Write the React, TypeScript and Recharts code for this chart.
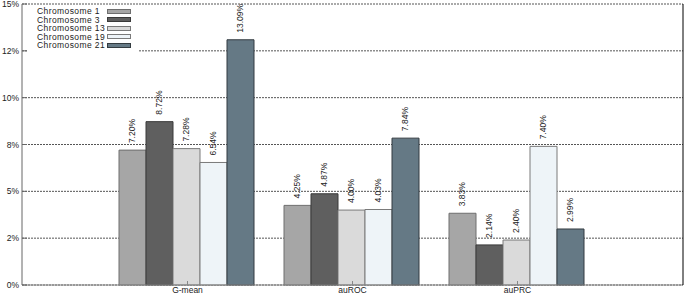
import { BarChart, Bar, XAxis, YAxis, CartesianGrid, LabelList } from "recharts";

const metrics = ["G-mean", "auROC", "auPRC"];
const chr1 = [7.2, 4.25, 3.83];
const chr3 = [8.72, 4.87, 2.14];
const chr13 = [7.28, 4.0, 2.4];
const chr19 = [6.54, 4.03, 7.4];
const chr21 = [13.09, 7.84, 2.99];

const yTicks = [0, 2.5, 5, 7.5, 10, 12.5, 15];
const yTickLabels = ["0%", "2%", "5%", "8%", "10%", "12%", "15%"];

const series = [
  { key: "chr1", name: "Chromosome 1", fill: "#a6a6a6", stroke: "#6e6e6e" },
  { key: "chr3", name: "Chromosome 3", fill: "#5f5f5f", stroke: "#3a3a3a" },
  { key: "chr13", name: "Chromosome 13", fill: "#dadada", stroke: "#7a7a7a" },
  { key: "chr19", name: "Chromosome 19", fill: "#eef4f8", stroke: "#7a7a7a" },
  { key: "chr21", name: "Chromosome 21", fill: "#657985", stroke: "#333b40" },
];

const data = metrics.map((m, i) => ({
  metric: m,
  chr1: chr1[i],
  chr3: chr3[i],
  chr13: chr13[i],
  chr19: chr19[i],
  chr21: chr21[i],
}));

const font = "'Liberation Sans', Arial, sans-serif";

function ValueLabel({ x, y, width, value }: any) {
  const cx = x + width / 2 + 3;
  const cy = y - 7;
  return (
    <text
      x={cx}
      y={cy}
      transform={`rotate(-90 ${cx} ${cy})`}
      fontSize={8.5}
      fontFamily={font}
      fill="#222"
      textAnchor="start"
    >
      {value.toFixed(2)}%
    </text>
  );
}

// legend drawn as a plain html box over the plot, like the original's boxed key
function LegendBox() {
  return (
    <div
      style={{
        position: "absolute",
        left: 28,
        top: 7,
        width: 110,
        height: 47,
        background: "#fff",
        fontFamily: font,
        fontSize: 8.5,
        lineHeight: "8.5px",
        color: "#222",
      }}
    >
      {series.map((s) => (
        <div key={s.key} style={{ display: "flex", alignItems: "center", height: 8.5 }}>
          <span style={{ width: 70, paddingLeft: 9, flexShrink: 0, letterSpacing: 0.4, whiteSpace: "nowrap" }}>
            {s.name}
          </span>
          <span
            style={{
              display: "inline-block",
              flexShrink: 0,
              width: 22,
              height: 3,
              background: s.fill,
              border: `1px solid ${s.stroke}`,
            }}
          />
        </div>
      ))}
    </div>
  );
}

export default function App() {
  return (
    <div style={{ position: "absolute", left: 0, top: 0, width: 685, height: 296, background: "#fff" }}>
      <BarChart
        width={685}
        height={296}
        data={data}
        margin={{ top: 4, right: 1, bottom: 0, left: 0 }}
        barCategoryGap={14}
        barGap={0}
      >
        <CartesianGrid vertical={false} stroke="#555" strokeDasharray="2 1" />
        <XAxis
          dataKey="metric"
          padding={{ left: 83, right: 83 }}
          height={11}
          tickSize={-4}
          tickMargin={6}
          stroke="#888"
          tick={{ fontSize: 8.5, fontFamily: font, fill: "#222" }}
        />
        <XAxis
          xAxisId="top"
          orientation="top"
          dataKey="metric"
          padding={{ left: 83, right: 83 }}
          height={0}
          tickSize={-4}
          tick={false}
          stroke="#999"
        />
        <YAxis
          domain={[0, 15]}
          ticks={yTicks}
          width={22}
          tickSize={-5}
          tickMargin={8}
          stroke="#666"
          interval={0}
          tickFormatter={(v: number) => yTickLabels[yTicks.indexOf(v)]}
          tick={{ fontSize: 8.5, fontFamily: font, fill: "#222" }}
        />
        <YAxis yAxisId="right" orientation="right" width={1} tick={false} tickLine={false} stroke="#000" />
        {series.map((s) => (
          <Bar
            key={s.key}
            dataKey={s.key}
            name={s.name}
            fill={s.fill}
            stroke={s.stroke}
            strokeWidth={1}
            isAnimationActive={false}
          >
            <LabelList dataKey={s.key} content={<ValueLabel />} />
          </Bar>
        ))}
      </BarChart>
      <LegendBox />
    </div>
  );
}
